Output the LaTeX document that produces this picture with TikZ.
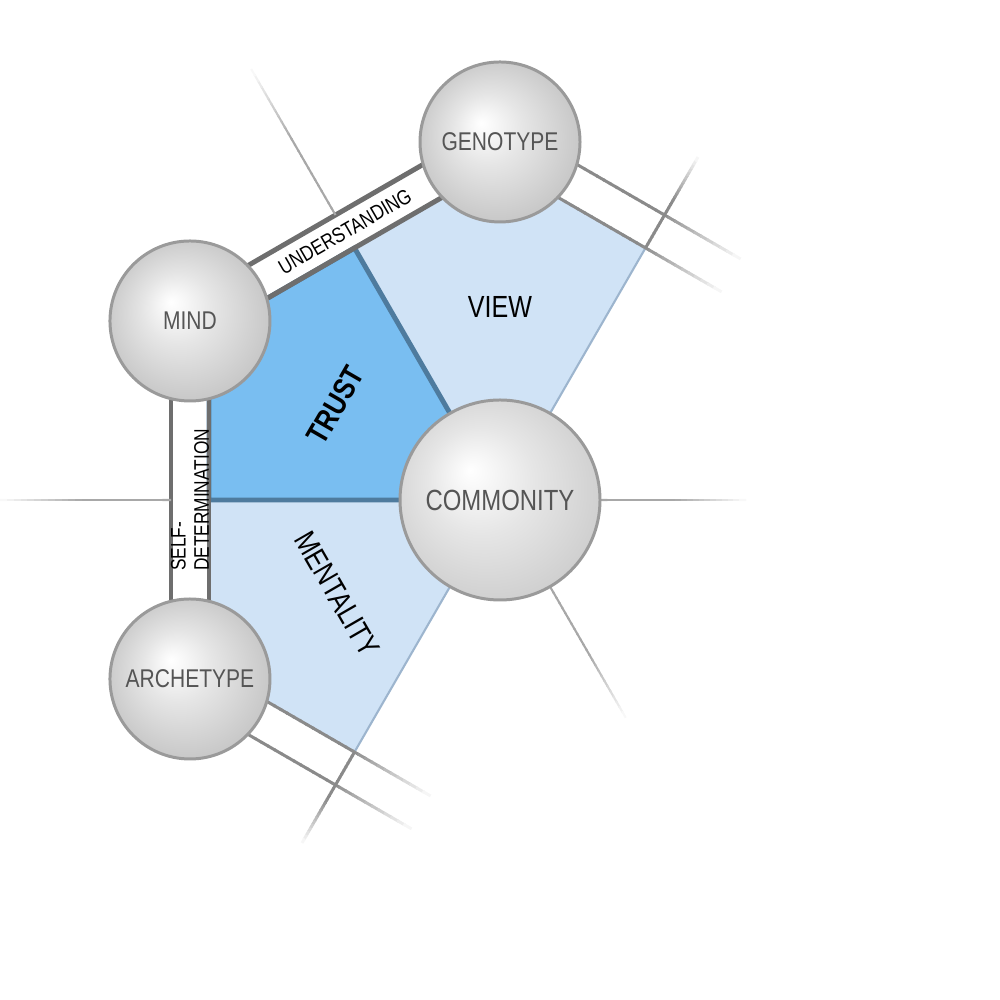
\documentclass[tikz,border=0pt]{standalone}
\usepackage{fontspec}
\setmainfont[FakeStretch=0.82]{Liberation Sans}
\usetikzlibrary{calc,backgrounds}

\definecolor{trustblue}{HTML}{79BEF1}
\definecolor{trustline}{HTML}{4E7B9E}
\definecolor{paleblue}{HTML}{D0E3F6}
\definecolor{paleline}{HTML}{9DB5CE}
\definecolor{bandgray}{HTML}{6E6E6E}
\definecolor{rimgray}{HTML}{8A8A8A}
\definecolor{raygray}{HTML}{A8A8A8}
\definecolor{orbline}{HTML}{9A9A9A}
\definecolor{orbtext}{HTML}{555555}

\pgfdeclareradialshading{orb}{\pgfpoint{-6bp}{6bp}}{color(0bp)=(white); color(3bp)=(gray!5); color(11bp)=(gray!20); color(30bp)=(gray!50)}
\pgfdeclareradialshading{huborb}{\pgfpoint{-7.5bp}{7.5bp}}{color(0bp)=(white); color(3.5bp)=(gray!5); color(13.5bp)=(gray!20); color(38bp)=(gray!50)}

% line that fades into the white from its first to its second point
\newcommand{\fadeline}[4]{%
  \foreach \i in {0,...,24}{%
    \pgfmathtruncatemacro\k{min(100,(25-\i)*8)}%
    \draw[#1, draw=#2!\k!white] ($(#3)!\i/25!(#4)$) -- ($(#3)!\i/25+0.05!(#4)$);
  }}

\begin{document}
\begin{tikzpicture}[sphere/.style={circle, shade, shading=orb, draw=orbline, line width=0.85pt, minimum size=1.6cm, inner sep=0pt, text=orbtext, font=\fontsize{7.3}{8}\selectfont},
    hub/.style={sphere, shading=huborb, minimum size=2cm, font=\fontsize{8.3}{9}\selectfont},
    band/.style={draw=bandgray, line width=1.4pt},
    rim/.style={line width=0.85pt},
    ray/.style={line width=0.6pt},
    tag/.style={font=\fontsize{6}{6.6}\selectfont, inner sep=0pt},
    field/.style={font=\fontsize{8.7}{9}\selectfont, inner sep=0pt}]
    \useasboundingbox (0,0) rectangle (10,10);

    \node[hub] (c) at (5,5) {COMMONITY};
    \node[sphere] (g) at ($(c)+(90:3.58)$) {GENOTYPE};
    \node[sphere] (m) at ($(c)+(150:3.58)$) {MIND};
    \node[sphere] (a) at ($(c)+(210:3.58)$) {ARCHETYPE};

    \node[field] (v) at ($(c)+(90:1.93)$) {VIEW};
    \node[field, font=\fontsize{8.7}{9}\selectfont\bfseries, rotate=60] (t) at ($(c)+(150:1.9)$) {TRUST};
    \node[field, rotate=-60] (mt) at ($(c)+(210:1.88)$) {MENTALITY};
    \node[tag, rotate=30] (u) at ($(m)!0.5!(g)$) {UNDERSTANDING};
    \node[tag, rotate=90, align=left] (sd) at ($(m)!0.5!(a)$) {SELF-\\DETERMINATION};

    \coordinate (go1) at ($(g)+(-30:0.78)+(60:0.19)$);
    \coordinate (go2) at ($(g)+(-30:2.65)+(60:0.19)$);
    \coordinate (gi1) at ($(g)+(-30:0.78)+(-120:0.19)$);
    \coordinate (gi2) at ($(g)+(-30:2.65)+(-120:0.19)$);
    \coordinate (ao1) at ($(a)+(-30:0.78)+(-120:0.19)$);
    \coordinate (ao2) at ($(a)+(-30:2.65)+(-120:0.19)$);
    \coordinate (ai1) at ($(a)+(-30:0.78)+(60:0.19)$);
    \coordinate (ai2) at ($(a)+(-30:2.65)+(60:0.19)$);
    \coordinate (r1) at ($(c)+(60:2.91)$);
    \coordinate (r1e) at ($(c)+(60:3.95)$);
    \coordinate (r2) at ($(c)+(120:3.29)$);
    \coordinate (r2e) at ($(c)+(120:4.96)$);
    \coordinate (r3) at ($(c)+(180:3.29)$);
    \coordinate (r3e) at ($(c)+(180:5)$);
    \coordinate (r4) at ($(c)+(240:2.91)$);
    \coordinate (r4e) at ($(c)+(240:3.95)$);
    \coordinate (r5) at ($(c)+(-60:1)$);
    \coordinate (r5e) at ($(c)+(-60:2.5)$);
    \coordinate (r6) at ($(c)+(0:1)$);
    \coordinate (r6e) at ($(c)+(0:2.45)$);

    \begin{scope}[on background layer]
      \filldraw[fill=paleblue, draw=paleline, line width=0.6pt] (c.center) -- (r1) -- ($(c)+(90:3.36)$) -- ($(c)+(120:2.91)$) -- cycle;
      \filldraw[fill=paleblue, draw=paleline, line width=0.6pt] (c.center) -- ($(c)+(180:2.91)$) -- ($(c)+(210:3.36)$) -- (r4) -- cycle;
      \filldraw[fill=trustblue, draw=trustline, line width=1.4pt] (c.center) -- ($(c)+(120:2.91)$) -- ($(c)+(150:3.36)$) -- ($(c)+(180:2.91)$) -- cycle;

      \draw[band] ($(m)!0.19cm!90:(g)$) -- ($(g)!0.19cm!-90:(m)$);
      \draw[band] ($(m)!0.19cm!-90:(g)$) -- ($(g)!0.19cm!90:(m)$);
      \draw[band] ($(m)!0.19cm!90:(a)$) -- ($(a)!0.19cm!-90:(m)$);
      \draw[band] ($(m)!0.19cm!-90:(a)$) -- ($(a)!0.19cm!90:(m)$);

      \fadeline{rim}{rimgray}{go1}{go2}
      \fadeline{rim}{rimgray}{gi1}{gi2}
      \fadeline{rim}{rimgray}{ao1}{ao2}
      \fadeline{rim}{rimgray}{ai1}{ai2}
      \fadeline{rim}{rimgray}{r1}{r1e}
      \fadeline{rim}{rimgray}{r4}{r4e}
      \fadeline{ray}{raygray}{r2}{r2e}
      \fadeline{ray}{raygray}{r3}{r3e}
      \fadeline{ray}{raygray}{r5}{r5e}
      \fadeline{ray}{raygray}{r6}{r6e}
    \end{scope}
  \end{tikzpicture}
\end{document}
